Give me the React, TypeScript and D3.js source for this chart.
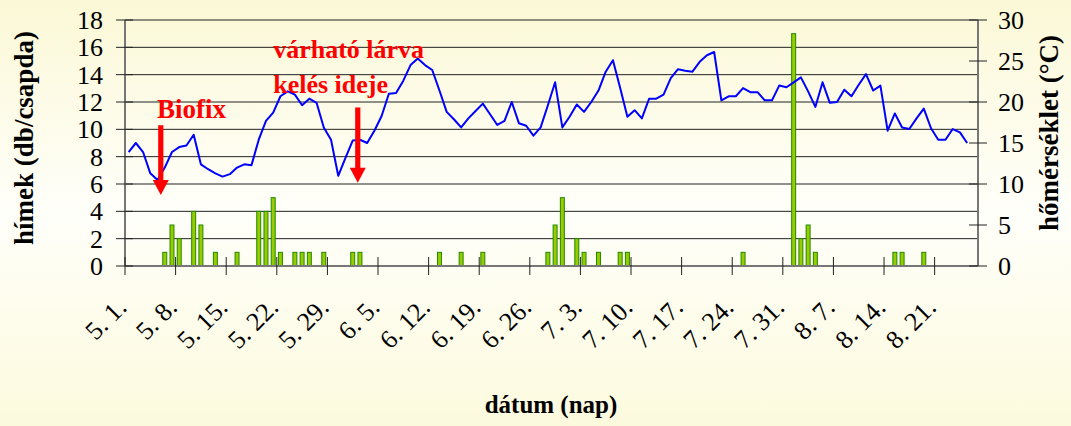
import React from 'react';
import * as d3 from 'd3';

// daily male catches (db/csapda), 5.1. -> 8.26.
const catches = [
  0, 0, 0, 0, 0, 1, 3, 2, 0, 4,
  3, 0, 1, 0, 0, 1, 0, 0, 4, 4,
  5, 1, 0, 1, 1, 1, 0, 1, 0, 0,
  0, 1, 1, 0, 0, 0, 0, 0, 0, 0,
  0, 0, 0, 1, 0, 0, 1, 0, 0, 1,
  0, 0, 0, 0, 0, 0, 0, 0, 1, 3,
  5, 0, 2, 1, 0, 1, 0, 0, 1, 1,
  0, 0, 0, 0, 0, 0, 0, 0, 0, 0,
  0, 0, 0, 0, 0, 1, 0, 0, 0, 0,
  0, 0, 17, 2, 3, 1, 0, 0, 0, 0,
  0, 0, 0, 0, 0, 0, 1, 1, 0, 0,
  1, 0, 0, 0, 0, 0, 0, 0,
];

// daily mean temperature (°C)
const temperature: (number | null)[] = [
  13.9, 15.0, 13.9, 11.3, 10.5, 12.0, 13.9, 14.5, 14.7, 16.0,
  12.4, 11.8, 11.3, 10.9, 11.2, 12.0, 12.4, 12.3, 15.4, 17.7,
  18.7, 20.7, 21.3, 20.9, 19.6, 20.4, 19.9, 16.9, 15.4, 11.0,
  13.2, 15.3, 15.4, 15.0, 16.5, 18.3, 21.0, 21.1, 22.6, 24.5,
  25.3, 24.5, 23.9, 21.4, 18.8, 17.9, 16.9, 18.0, 18.9, 19.8,
  18.5, 17.2, 17.7, 20.0, 17.4, 17.1, 15.9, 16.9, 19.6, 22.4,
  16.9, 18.2, 19.7, 18.8, 20.0, 21.4, 23.7, 25.1, 21.7, 18.2,
  19.0, 18.0, 20.4, 20.4, 20.9, 22.9, 24.0, 23.8, 23.7, 24.9,
  25.7, 26.1, 20.2, 20.7, 20.7, 21.7, 21.2, 21.2, 20.2, 20.2,
  22.0, 21.8, 22.4, 23.0, 21.3, 19.4, 22.4, 19.9, 20.0, 21.5,
  20.7, 22.1, 23.4, 21.4, 22.0, 16.5, 18.6, 16.9, 16.7, 18.0,
  19.2, 16.8, 15.4, 15.4, 16.7, 16.3, 15.0, null,
];

const dateLabels = [
  '5. 1.', '5. 8.', '5. 15.', '5. 22.', '5. 29.', '6. 5.', '6. 12.', '6. 19.', '6. 26.',
  '7. 3.', '7. 10.', '7. 17.', '7. 24.', '7. 31.', '8. 7.', '8. 14.', '8. 21.',
];
const leftTicks = [0, 2, 4, 6, 8, 10, 12, 14, 16, 18];
const rightTicks = [0, 5, 10, 15, 20, 25, 30];

const W = 1071;
const H = 426;
const margin = { top: 20, right: 93, bottom: 160, left: 125 };
const FONT = '"Liberation Serif", "Times New Roman", serif';

const App = () => {
  const n = catches.length;
  const x = d3.scaleLinear().domain([0, n]).range([margin.left, W - margin.right]);
  const step = x(1) - x(0);
  const yL = d3.scaleLinear().domain([0, 18]).range([H - margin.bottom, margin.top]);
  const yR = d3.scaleLinear().domain([0, 30]).range([H - margin.bottom, margin.top]);
  const x0 = margin.left;
  const x1 = W - margin.right;
  const base = yL(0);

  const line = d3.line<number | null>()
    .defined(d => d != null)
    .x((_, i) => x(i + 0.5))
    .y(d => yR(d as number));

  const barW = step * 0.55;

  const arrow = (cx: number, top: number, tip: number) => {
    const headH = 15;
    const headW = 16;
    return (
      <g fill="#ff0000">
        <rect x={cx - 2.6} y={top} width={5.2} height={tip - top - headH + 1} />
        <polygon points={`${cx - headW / 2},${tip - headH} ${cx + headW / 2},${tip - headH} ${cx},${tip}`} />
      </g>
    );
  };

  return (
    <svg width={W} height={H} style={{ position: 'fixed', left: 0, top: 0, fontFamily: FONT }}>
      <defs>
        <linearGradient id="bg" x1="0" y1="0" x2="0" y2="1">
          <stop offset="0%" stopColor="#fbf8d6" />
          <stop offset="50%" stopColor="#fffffa" />
          <stop offset="100%" stopColor="#fcfadd" />
        </linearGradient>
      </defs>
      <rect width={W} height={H} fill="url(#bg)" />

      {/* gridlines */}
      {leftTicks.filter(t => t > 0).map(t => (
        <line key={t} x1={x0} x2={x1} y1={yL(t)} y2={yL(t)} stroke="#222" strokeWidth={1} />
      ))}

      {/* bars */}
      {catches.map((v, i) => v > 0 ? (
        <rect key={i} x={x(i + 0.5) - barW / 2} y={yL(v)} width={barW} height={base - yL(v)}
          fill="#99cc00" stroke="#1f8a00" strokeWidth={1} />
      ) : null)}

      {/* temperature line */}
      <path d={line(temperature) || ''} fill="none" stroke="#0000ff" strokeWidth={2} strokeLinejoin="round" />

      {/* axes */}
      <line x1={x0} x2={x0} y1={margin.top} y2={base} stroke="#777" strokeWidth={2} />
      <line x1={x1} x2={x1} y1={margin.top} y2={base} stroke="#777" strokeWidth={2} />
      <line x1={x0} x2={x1} y1={base} y2={base} stroke="#777" strokeWidth={2} />

      {leftTicks.map(t => (
        <g key={t}>
          <line x1={x0 - 9} x2={x0 + 8} y1={yL(t)} y2={yL(t)} stroke="#222" />
          <text x={103} y={yL(t)} dy="0.34em" textAnchor="end" fontSize={26}>{t}</text>
        </g>
      ))}
      {rightTicks.map(t => (
        <g key={t}>
          <line x1={x1 - 9} x2={x1 + 9} y1={yR(t)} y2={yR(t)} stroke="#222" />
          <text x={998} y={yR(t)} dy="0.34em" textAnchor="start" fontSize={26}>{t}</text>
        </g>
      ))}
      {dateLabels.map((lab, k) => {
        const tx = x(k * 7);
        return (
          <g key={lab}>
            <line x1={tx} x2={tx} y1={base - 9} y2={base + 9} stroke="#222" />
            <text transform={`translate(${tx + 3},${base + 43}) rotate(-45)`} textAnchor="end" fontSize={26}>{lab}</text>
          </g>
        );
      })}

      {/* annotations */}
      <text x={x(4.43)} y={yL(10.83)} fill="#ff0000" fontWeight="bold" fontSize={27}>Biofix</text>
      {arrow(x(4.95), yL(10.3), yL(5.2))}
      <text x={x(20.5)} y={yL(15.2)} fill="#ff0000" fontWeight="bold" fontSize={26}>várható lárva</text>
      <text x={x(20.5)} y={yL(12.66)} fill="#ff0000" fontWeight="bold" fontSize={26}>kelés ideje</text>
      {arrow(x(32.2), yL(11.6), yL(6.1))}

      {/* axis titles */}
      <text transform="translate(33,138) rotate(-90)" textAnchor="middle" fontWeight="bold" fontSize={27}>hímek (db/csapda)</text>
      <text transform="translate(1058,133) rotate(-90)" textAnchor="middle" fontWeight="bold" fontSize={27}>hőmérséklet (°C)</text>
      <text x={551} y={413} textAnchor="middle" fontWeight="bold" fontSize={25}>dátum (nap)</text>
    </svg>
  );
};

export default App;
